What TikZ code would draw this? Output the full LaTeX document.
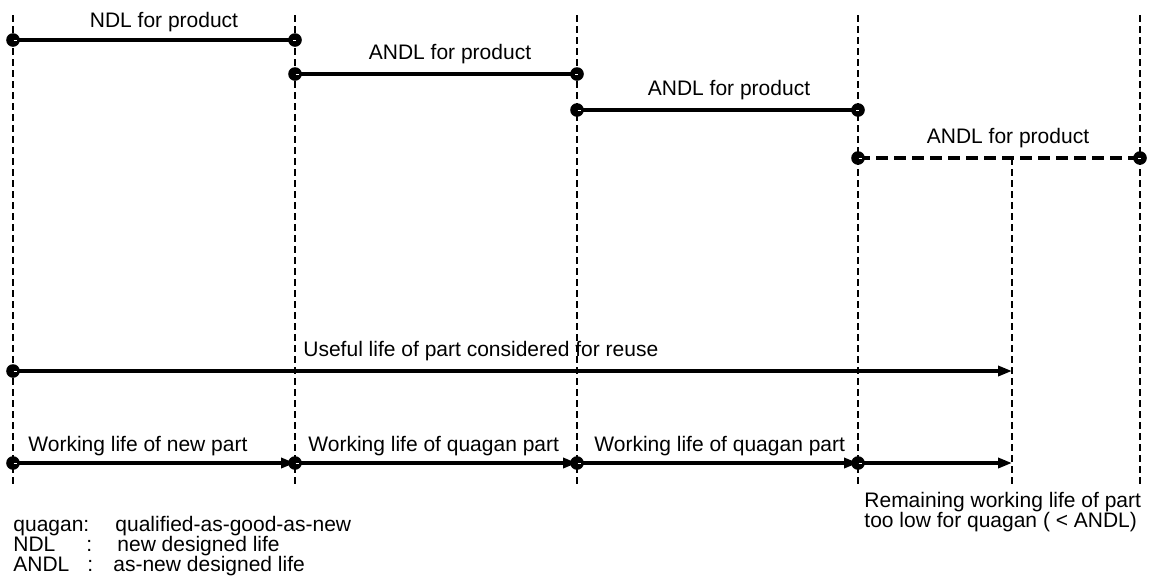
\documentclass[tikz,border=0pt]{standalone}
\usepackage{fontspec}
\setmainfont{Liberation Sans}
\usetikzlibrary{arrows.meta}

\tikzset{
  phase/.style={line width=1.2pt, dash pattern=on 3.5pt off 2pt},
  life/.style={line width=1.7pt},
  lifeext/.style={line width=1.7pt, dash pattern=on 6pt off 3pt},
  span/.style={line width=1.7pt, -{Triangle[length=7pt,width=5pt]}},
  lbl/.style={font=\fontsize{10.5}{12}\selectfont, inner sep=0pt},
}

% round end markers with the small white notch
\newcommand{\opendot}[1]{\fill (#1) circle (3.4pt);
  \draw[white, line width=0.45pt] ([xshift=0.3pt]#1) -- ++(1.6pt,0);}
\newcommand{\closedot}[1]{\fill (#1) circle (3.4pt);
  \draw[white, line width=0.45pt] ([xshift=0.3pt]#1) -- ++(-1.4pt,0);}

\begin{document}
\begin{tikzpicture}[x=0.5pt,y=-0.5pt]
  \useasboundingbox[fill=white] (0,0) rectangle (1149,585);
  \begin{scope}
    % phase boundaries
    \draw[phase] (13,15) -- (13,487);
    \draw[phase] (295,15) -- (295,487);
    \draw[phase] (577,15) -- (577,487);
    \draw[phase] (858,15) -- (858,487);
    \draw[phase] (1140,15) -- (1140,487);
    \draw[phase] (1012,158) -- (1012,487);

    % designed lives of the product
    \coordinate (ndlA) at (13,40);
    \coordinate (ndlB) at (295,40);
    \coordinate (andlA) at (295,74);
    \coordinate (andlB) at (577,74);
    \coordinate (andlC) at (577,110);
    \coordinate (andlD) at (858,110);
    \coordinate (andlE) at (858,158);
    \coordinate (andlF) at (1140,158);

    \draw[life] (ndlA) -- (ndlB);
    \draw[life] (andlA) -- (andlB);
    \draw[life] (andlC) -- (andlD);
    \draw[lifeext] (andlE) -- (andlF);

    \opendot{ndlA} \closedot{ndlB}
    \opendot{andlA} \closedot{andlB}
    \opendot{andlC} \closedot{andlD}
    \opendot{andlE} \closedot{andlF}

    \node[lbl, anchor=base] (ndl) at (164,27) {NDL for product};
    \node[lbl, anchor=base] (andl1) at (450,59) {ANDL for product};
    \node[lbl, anchor=base] (andl2) at (729,95) {ANDL for product};
    \node[lbl, anchor=base] (andl3) at (1008,143) {ANDL for product};

    % useful life of the part
    \coordinate (useA) at (13,371);
    \coordinate (useB) at (1012,371);
    \draw[span] (useA) -- (useB);
    \opendot{useA}
    \node[lbl, anchor=base west] (use) at (303,356) {Useful life of part considered for reuse};

    % working lives
    \coordinate (w0) at (13,463);
    \coordinate (w1) at (295,463);
    \coordinate (w2) at (577,463);
    \coordinate (w3) at (858,463);
    \coordinate (w4) at (1012,463);
    \draw[span] (w0) -- (w1);
    \draw[span] (w1) -- (w2);
    \draw[span] (w2) -- (w3);
    \draw[span] (w3) -- (w4);
    \opendot{w0} \opendot{w1} \opendot{w2} \opendot{w3}

    \node[lbl, anchor=base west] (work1) at (28,451) {Working life of new part};
    \node[lbl, anchor=base west] (work2) at (308,451) {Working life of quagan part};
    \node[lbl, anchor=base west] (work3) at (594,451) {Working life of quagan part};

    \node[lbl, anchor=base west] (rest1) at (864,507) {Remaining working life of part};
    \node[lbl, anchor=base west] (rest2) at (864,527) {too low for quagan ( < ANDL)};

    % abbreviations
    \node[lbl, anchor=base west] (abbr1) at (13,531) {quagan:};
    \node[lbl, anchor=base west] (abbr2) at (13,551) {NDL};
    \node[lbl, anchor=base west] (abbr3) at (13,571) {ANDL};
    \node[lbl, anchor=base west] (col2) at (86,551) {:};
    \node[lbl, anchor=base west] (col3) at (87,571) {:};
    \node[lbl, anchor=base west] (def1) at (115,531) {qualified-as-good-as-new};
    \node[lbl, anchor=base west] (def2) at (117,551) {new designed life};
    \node[lbl, anchor=base west] (def3) at (113,571) {as-new designed life};
  \end{scope}
\end{tikzpicture}
\end{document}
